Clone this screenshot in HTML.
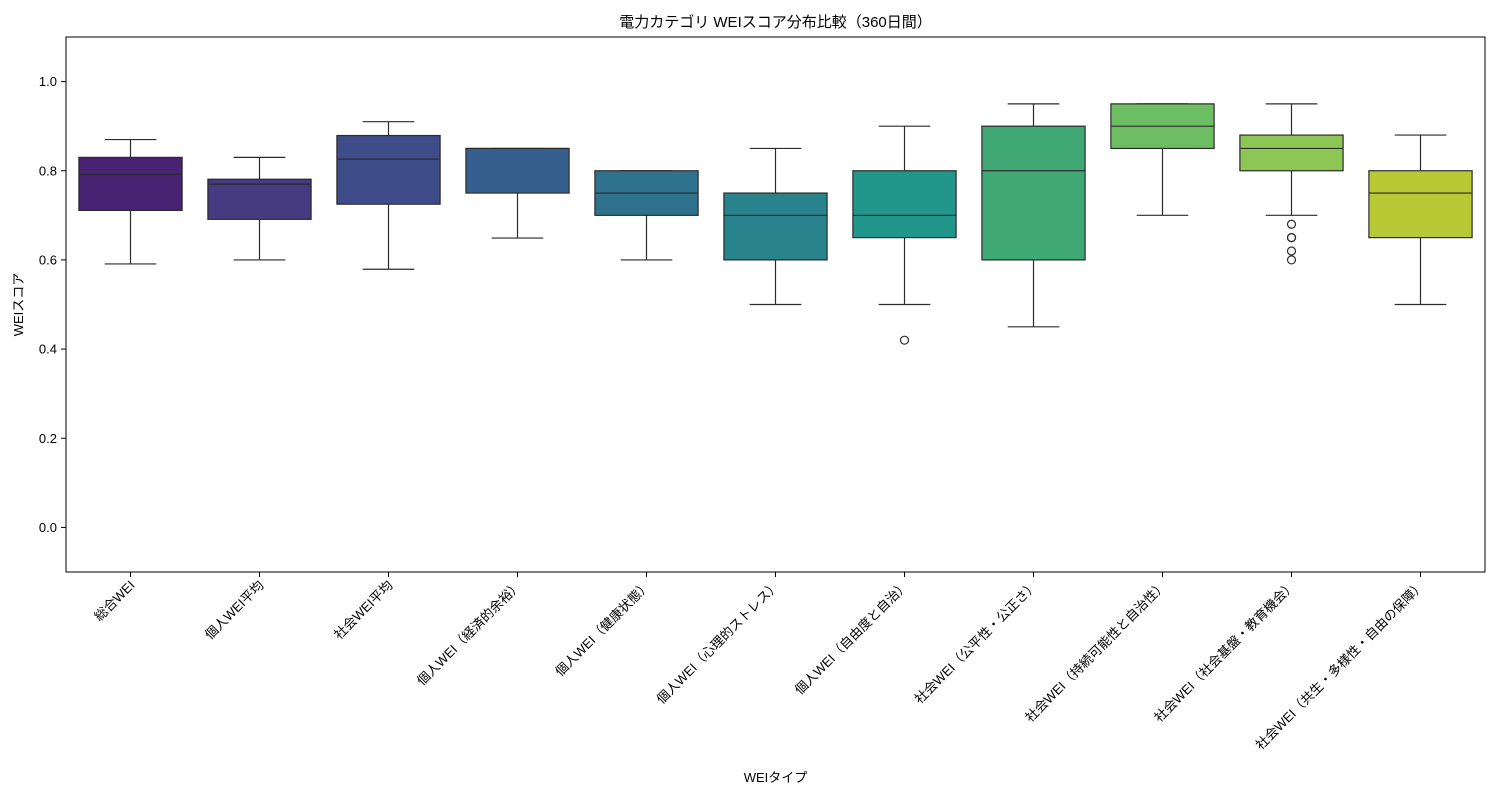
<!DOCTYPE html>
<html><head><meta charset="utf-8"><style>
body{margin:0;background:#fff;}
svg{font-family:"Liberation Sans","Noto Sans CJK JP",sans-serif;}
</style></head><body>
<svg id="chart" width="1500" height="800" xmlns="http://www.w3.org/2000/svg"></svg>
<script>
const categories=["総合WEI","個人WEI平均","社会WEI平均","個人WEI（経済的余裕）","個人WEI（健康状態）","個人WEI（心理的ストレス）","個人WEI（自由度と自治）","社会WEI（公平性・公正さ）","社会WEI（持続可能性と自治性）","社会WEI（社会基盤・教育機会）","社会WEI（共生・多様性・自由の保障）"];
const whiskerLow=[0.591,0.60,0.579,0.649,0.60,0.50,0.50,0.45,0.70,0.70,0.50];
const q1=[0.711,0.691,0.725,0.75,0.70,0.60,0.65,0.60,0.85,0.80,0.65];
const medians=[0.792,0.770,0.826,0.85,0.75,0.70,0.70,0.80,0.90,0.85,0.75];
const q3=[0.830,0.781,0.879,0.85,0.80,0.75,0.80,0.90,0.95,0.88,0.80];
const whiskerHigh=[0.870,0.83,0.91,0.85,0.80,0.85,0.90,0.95,0.95,0.95,0.88];
const outliers=[[],[],[],[],[],[],[0.42],[],[],[0.68,0.65,0.65,0.62,0.60],[]];
const yTicks=[0.0,0.2,0.4,0.6,0.8,1.0];
const colors=["#482374","#463a81","#3e4c89","#35608d","#2e728e","#28838d","#22968a","#40a874","#6dbe63","#8ec654","#b7c935"];

const svg=document.getElementById('chart');
const NS="http://www.w3.org/2000/svg";
const L=66,R=1485,T=37,B=572,yMin=-0.1,yMax=1.1;
const y=v=>B-(v-yMin)/(yMax-yMin)*(B-T);
const band=(R-L)/categories.length;
const x=i=>L+band*(i+0.5);
const bw=band*0.8;
function el(t,a,p){const e=document.createElementNS(NS,t);for(const k in a)e.setAttribute(k,a[k]);(p||svg).appendChild(e);return e;}

const title=el('text',{x:(L+R)/2,y:27,'text-anchor':'middle','font-size':15,fill:'#000'});


title.textContent="電力カテゴリ WEIスコア分布比較（360日間）";

yTicks.forEach(v=>{
  const ln=el('line',{x1:L-5,x2:L,y1:y(v),y2:y(v),stroke:'#000'});
  
  
  const t=el('text',{x:L-9,y:y(v)+4.5,'text-anchor':'end','font-size':13});
  
  
  t.textContent=v.toFixed(1);
});

categories.forEach((c,i)=>{
  const g=el('g',{});
  
  
  const cx=x(i),st='#2b2b2b';
  el('line',{x1:cx,x2:cx,y1:y(whiskerHigh[i]),y2:y(q3[i]),stroke:st,'stroke-width':1.2},g);
  el('line',{x1:cx,x2:cx,y1:y(q1[i]),y2:y(whiskerLow[i]),stroke:st,'stroke-width':1.2},g);
  el('line',{x1:cx-bw/4,x2:cx+bw/4,y1:y(whiskerHigh[i]),y2:y(whiskerHigh[i]),stroke:st,'stroke-width':1.2},g);
  el('line',{x1:cx-bw/4,x2:cx+bw/4,y1:y(whiskerLow[i]),y2:y(whiskerLow[i]),stroke:st,'stroke-width':1.2},g);
  el('rect',{x:cx-bw/2,y:y(q3[i]),width:bw,height:Math.max(0,y(q1[i])-y(q3[i])),fill:colors[i],stroke:st,'stroke-width':1.2},g);
  el('line',{x1:cx-bw/2,x2:cx+bw/2,y1:y(medians[i]),y2:y(medians[i]),stroke:st,'stroke-width':1.2},g);
  outliers[i].forEach(o=>{
    const ci=el('circle',{cx:cx,cy:y(o),r:4,fill:'none',stroke:st,'stroke-width':1.2},g);
    
    
  });
  const tk=el('line',{x1:cx,x2:cx,y1:B,y2:B+5,stroke:'#000'});
  
  
  const t=el('text',{x:cx+5,y:B+14,'text-anchor':'end','font-size':13,transform:`rotate(-45 ${cx+5} ${B+14})`});
  
  
  t.textContent=c;
});

const frame=el('rect',{x:L,y:T,width:R-L,height:B-T,fill:'none',stroke:'#000','stroke-width':1});



const yl=el('text',{x:23,y:(T+B)/2,'text-anchor':'middle','font-size':13,transform:`rotate(-90 23 ${(T+B)/2})`});


yl.textContent="WEIスコア";
const xl=el('text',{x:(L+R)/2,y:782,'text-anchor':'middle','font-size':13});


xl.textContent="WEIタイプ";
</script>
</body></html>
